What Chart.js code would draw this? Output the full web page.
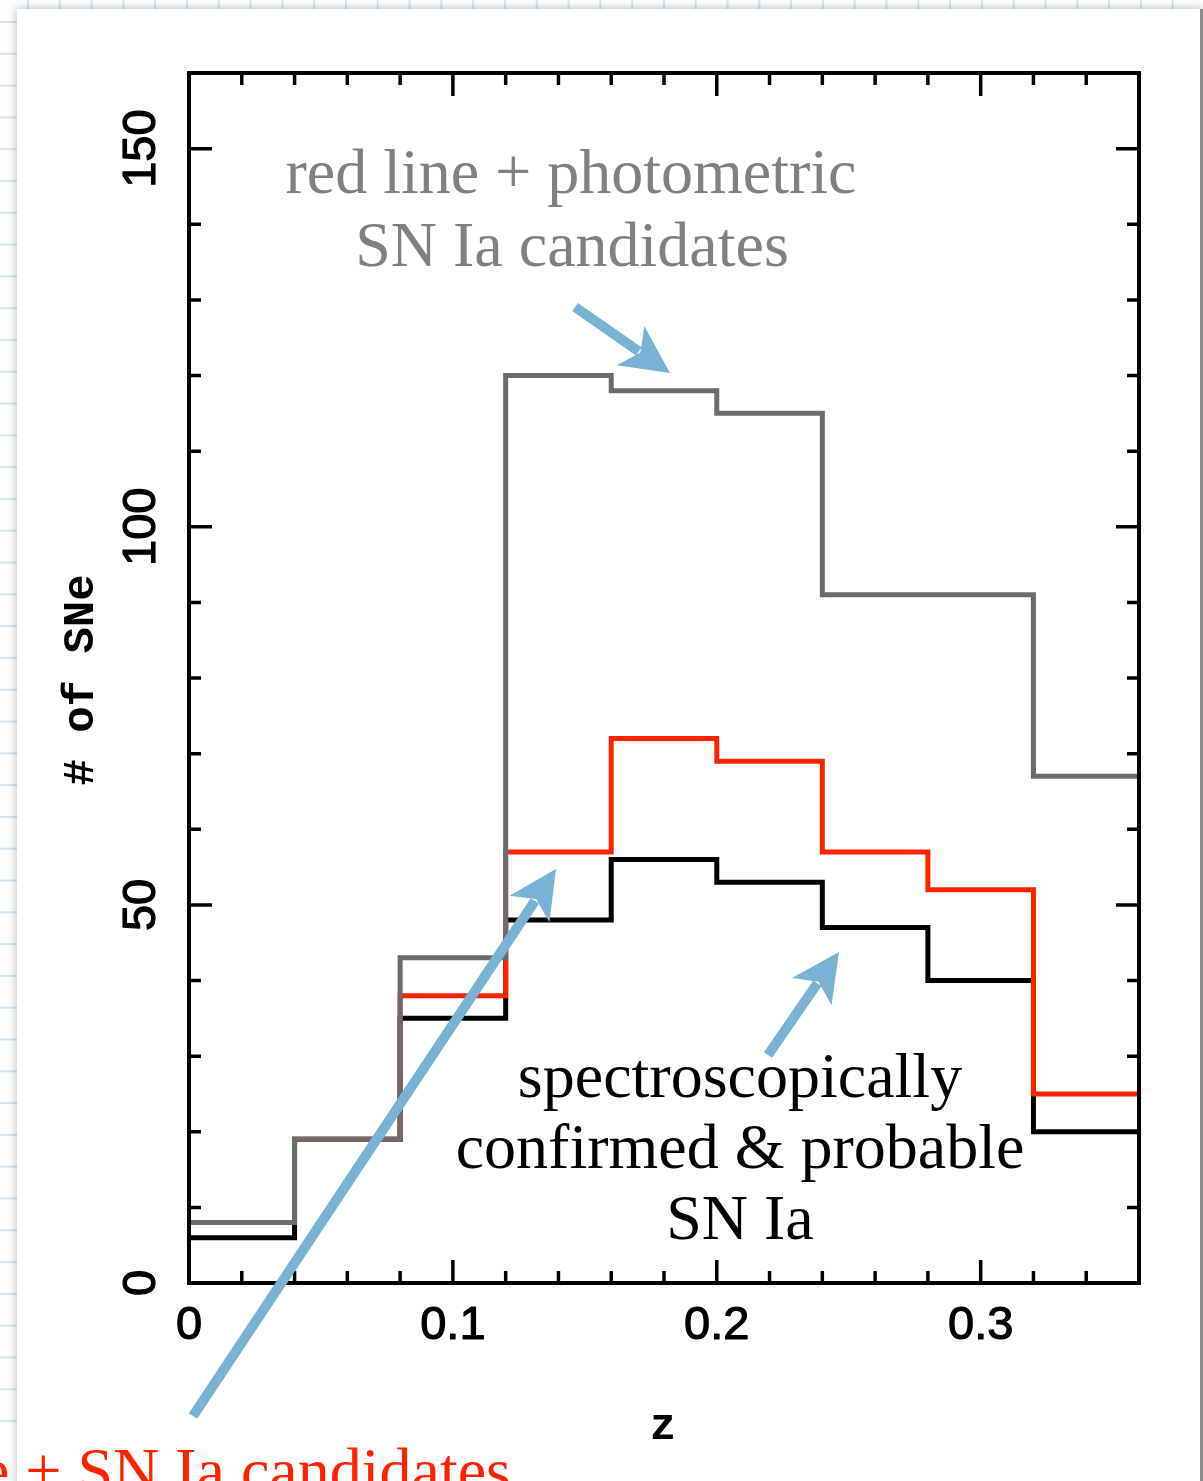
<!DOCTYPE html>
<html>
<head>
<meta charset="utf-8">
<title>SN Ia redshift histogram</title>
<script src="https://cdn.jsdelivr.net/npm/chart.js@4.4.0/dist/chart.umd.min.js"></script>
<style>
html, body { margin: 0; padding: 0; width: 1203px; height: 1481px; overflow: hidden; background: #fff; }
#paper {
    position: absolute; left: 0; top: 0; width: 1203px; height: 1424px;
    background-color: #fbfdfe;
    background-image: linear-gradient(to right, #d3e6ee 2px, transparent 2px),
                      linear-gradient(to bottom, #d3e6ee 2px, transparent 2px);
    background-size: 31.8px 31.8px;
    background-position: 27px 21px;
}
#card {
    position: absolute; left: 17px; top: 9px; width: 1183px; height: 1520px;
    background: #fff; border-right: 3px solid #8c8c8c;
    box-shadow: 0 0 9px rgba(0, 0, 0, 0.28);
}
#chart { position: absolute; left: 0; top: 0; }
</style>
</head>
<body>
<div id="paper"></div>
<div id="card"></div>
<canvas id="chart" width="1203" height="1481"></canvas>
<script>
// histogram bins in redshift
const binEdges = [0, 0.04, 0.08, 0.12, 0.16, 0.20, 0.24, 0.28, 0.32, 0.36];
const grayCounts = [8, 19, 43, 120, 118, 115, 91, 91, 67];   // red line + photometric SN Ia candidates
const redCounts = [8, 19, 38, 57, 72, 69, 57, 52, 25];       // + SN Ia candidates
const blackCounts = [6, 19, 35, 48, 56, 53, 47, 40, 20];     // spectroscopically confirmed & probable

const xTickValues = [0, 0.1, 0.2, 0.3];
const xTickLabels = ['0', '0.1', '0.2', '0.3'];
const yTickValues = [0, 50, 100, 150];
const yTickLabels = ['0', '50', '100', '150'];

const BLUE = '#78b2d5';

function toSteps(counts) {
    const pts = counts.map((c, i) => ({ x: binEdges[i], y: c }));
    pts.push({ x: binEdges[counts.length], y: counts[counts.length - 1] });
    return pts;
}

function drawArrow(ctx, x0, y0, x1, y1) {
    const dx = x1 - x0, dy = y1 - y0;
    const len = Math.hypot(dx, dy);
    const ux = dx / len, uy = dy / len;
    const px = -uy, py = ux;
    const headLen = 48, halfW = 24, notch = 36;
    ctx.strokeStyle = BLUE;
    ctx.fillStyle = BLUE;
    ctx.lineWidth = 10;
    ctx.lineCap = 'butt';
    ctx.beginPath();
    ctx.moveTo(x0, y0);
    ctx.lineTo(x1 - ux * (notch + 2), y1 - uy * (notch + 2));
    ctx.stroke();
    ctx.beginPath();
    ctx.moveTo(x1, y1);
    ctx.lineTo(x1 - ux * headLen + px * halfW, y1 - uy * headLen + py * halfW);
    ctx.lineTo(x1 - ux * notch, y1 - uy * notch);
    ctx.lineTo(x1 - ux * headLen - px * halfW, y1 - uy * headLen - py * halfW);
    ctx.closePath();
    ctx.fill();
}

function boldText(ctx, text, x, y) {
    ctx.fillText(text, x, y);
    ctx.strokeText(text, x, y);
}

const frame = {
    id: 'frame',
    afterDatasetsDraw(chart) {
        const { ctx, chartArea: a, scales: { x, y } } = chart;
        ctx.save();
        ctx.strokeStyle = '#000';
        ctx.lineCap = 'butt';
        ctx.lineWidth = 3.5;

        // inward ticks on all four sides
        ctx.beginPath();
        for (let i = 0; i <= 18; i++) {
            const px = x.getPixelForValue(i * 0.02);
            const len = i % 5 === 0 ? 23 : 12;
            ctx.moveTo(px, a.bottom); ctx.lineTo(px, a.bottom - len);
            ctx.moveTo(px, a.top); ctx.lineTo(px, a.top + len);
        }
        for (let i = 0; i <= 16; i++) {
            const py = y.getPixelForValue(i * 10);
            const len = i % 5 === 0 ? 23 : 12;
            ctx.moveTo(a.left, py); ctx.lineTo(a.left + len, py);
            ctx.moveTo(a.right, py); ctx.lineTo(a.right - len, py);
        }
        ctx.stroke();

        ctx.lineWidth = 4;
        ctx.lineJoin = 'miter';
        ctx.strokeRect(a.left, a.top, a.right - a.left, a.bottom - a.top);

        // tick labels, slightly thickened
        ctx.fillStyle = '#000';
        ctx.lineWidth = 1.2;
        ctx.lineJoin = 'round';
        ctx.font = '47px "Liberation Sans", Arial, sans-serif';
        ctx.textAlign = 'center';
        ctx.textBaseline = 'middle';
        xTickValues.forEach((v, i) => {
            boldText(ctx, xTickLabels[i], x.getPixelForValue(v), a.bottom + 43);
        });
        yTickValues.forEach((v, i) => {
            ctx.save();
            ctx.translate(a.left - 47, y.getPixelForValue(v));
            ctx.rotate(-Math.PI / 2);
            boldText(ctx, yTickLabels[i], 0, 0);
            ctx.restore();
        });

        // axis titles
        ctx.font = 'bold 44px "Liberation Mono", "Courier New", monospace';
        ctx.fillText('z', 663, 1428);
        ctx.save();
        ctx.translate(82, 680);
        ctx.rotate(-Math.PI / 2);
        ctx.fillText('# of SNe', 0, 0);
        ctx.restore();

        // annotations
        ctx.font = '64px "Liberation Serif", "Times New Roman", serif';
        ctx.textBaseline = 'alphabetic';
        ctx.fillStyle = '#808080';
        ctx.fillText('red line + photometric', 571, 193);
        ctx.fillText('SN Ia candidates', 572, 266);

        ctx.fillStyle = '#000';
        ctx.fillText('spectroscopically', 740, 1097);
        ctx.fillText('confirmed & probable', 740, 1168);
        ctx.fillText('SN Ia', 740, 1239);

        ctx.fillStyle = '#ff2200';
        ctx.textAlign = 'right';
        ctx.fillText('black line + SN Ia candidates', 511, 1492);

        drawArrow(ctx, 575, 307, 670, 373);
        drawArrow(ctx, 193, 1416, 556, 869);
        drawArrow(ctx, 768, 1055, 839, 952);
        ctx.restore();
    }
};

function stepSet(label, counts, color, order) {
    return {
        label: label,
        data: toSteps(counts),
        borderColor: color,
        borderWidth: 5,
        stepped: 'before',
        pointRadius: 0,
        fill: false,
        borderCapStyle: 'butt',
        borderJoinStyle: 'miter',
        order: order,
        clip: 6
    };
}

new Chart(document.getElementById('chart'), {
    type: 'line',
    data: {
        datasets: [
            stepSet('red line + photometric SN Ia candidates', grayCounts, '#6b6b6b', 0),
            stepSet('red line + SN Ia candidates', redCounts, '#ff2200', 1),
            stepSet('spectroscopically confirmed & probable SN Ia', blackCounts, '#000000', 2)
        ]
    },
    options: {
        responsive: false,
        animation: false,
        devicePixelRatio: 1,
        layout: { padding: { left: 189, top: 73, right: 64, bottom: 198 } },
        scales: {
            x: { type: 'linear', min: 0, max: 0.36, display: false },
            y: { type: 'linear', min: 0, max: 160, display: false }
        },
        plugins: {
            legend: { display: false },
            tooltip: { enabled: false }
        }
    },
    plugins: [frame]
});
</script>
</body>
</html>
